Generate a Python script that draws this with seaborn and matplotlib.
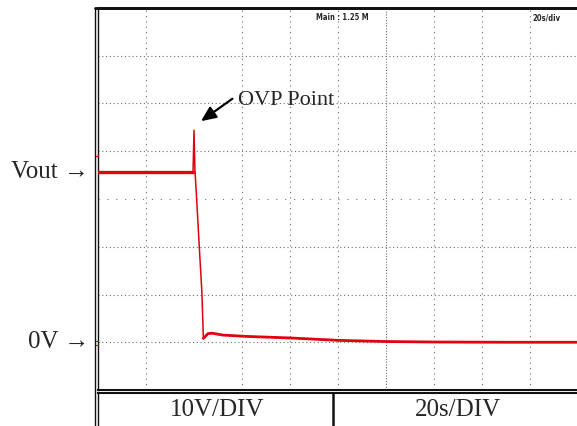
import matplotlib
matplotlib.use("Agg")
import matplotlib.pyplot as plt
from matplotlib.lines import Line2D
import seaborn as sns
import pandas as pd

# scope trace, time in s (20 s/div), voltage in V (10 V/div)
time_pre = [0, 39.6]
volt_pre = [35.6, 35.6]

time_fall = [39.6, 40.0, 40.4, 41.1, 42.2, 43.3, 43.9]
volt_fall = [35.6, 44.4, 36.0, 30.0, 20.0, 10.3, 0.8]

time_post = [43.9, 45.8, 47.5, 52, 63, 80, 100, 120, 140, 170, 200]
volt_post = [0.8, 1.8, 1.9, 1.5, 1.2, 0.9, 0.4, 0.15, 0.05, 0.0, 0.0]

grid_v = [0, 10, 20, 40, 50, 60]
grid_v_sparse = [30]
grid_t = [20, 60, 80, 100, 140, 160, 180]
grid_t_dense = [120]

scale_labels = ["10V/DIV", "20s/DIV"]

W, H = 577, 426


def fx(px):
    return px / W


def fy(py):
    return 1 - py / H


sns.set_style("white")
plt.rcParams['font.family'] = ['Liberation Serif', 'DejaVu Serif']

fig = plt.figure(figsize=(W / 100, H / 100), dpi=100)
ax = fig.add_axes([fx(98), fy(390), 480 / W, (390 - 8) / H])

red = "#e3000f"
df_pre = pd.DataFrame({"t": time_pre, "v": volt_pre})
df_fall = pd.DataFrame({"t": time_fall, "v": volt_fall})
df_post = pd.DataFrame({"t": time_post, "v": volt_post})
sns.lineplot(data=df_pre, x="t", y="v", ax=ax, color=red, lw=2.4, zorder=5)
sns.lineplot(data=df_fall, x="t", y="v", ax=ax, color=red, lw=1.1, zorder=5)
sns.lineplot(data=df_post, x="t", y="v", ax=ax, color=red, lw=2.0, zorder=5)

# graticule
dot = dict(color="#6e6e6e", lw=0.8, zorder=1)
for v in grid_v:
    ax.axhline(v, linestyle=(0, (1, 2.4)), **dot)
for v in grid_v_sparse:
    ax.axhline(v, linestyle=(0, (1, 7)), **dot)
for t in grid_t:
    ax.axvline(t, linestyle=(0, (1, 3.8)), **dot)
for t in grid_t_dense:
    ax.axvline(t, linestyle=(0, (1, 1.5)), **dot)

ax.set_xlim(0, 200)
ax.set_ylim(-10, 70)
ax.set_xticks([])
ax.set_yticks([])
ax.set_xlabel("")
ax.set_ylabel("")
for side in ["left", "top", "bottom", "right"]:
    ax.spines[side].set_color("#111111")
ax.spines["left"].set_linewidth(1.0)
ax.spines["top"].set_linewidth(2.0)
ax.spines["bottom"].set_linewidth(1.5)
ax.spines["right"].set_visible(False)

# OVP marker: arrow and label drawn separately
ax.annotate("", xy=(42.9, 46.3), xytext=(56.0, 51.0),
            arrowprops=dict(arrowstyle="-|>,head_length=0.9,head_width=0.4",
                            color="black", lw=1.6, shrinkA=0, shrinkB=0))
ax.text(58.3, 50.7, "OVP Point", ha="left", va="center", fontsize=16)

# scope readouts
ax.text(0.455, 0.975, "Main : 1.25 M", transform=ax.transAxes, ha="left", va="center",
        fontsize=5.5, fontweight="bold", family="DejaVu Sans", fontstretch="condensed")
ax.text(0.905, 0.975, "20s/div", transform=ax.transAxes, ha="left", va="center",
        fontsize=5.5, fontweight="bold", family="DejaVu Sans", fontstretch="condensed")

# channel markers on left edge
fig.add_artist(Line2D([fx(95), fx(98)], [fy(156), fy(156)], color=red, lw=1))
fig.add_artist(Line2D([fx(95), fx(98)], [fy(341), fy(341)], color=red, lw=0.8))
fig.add_artist(Line2D([fx(95), fx(98)], [fy(345), fy(345)], color=red, lw=0.8))

# outer frame line
fig.add_artist(Line2D([fx(95), fx(95)], [fy(8), 0], color="#111111", lw=1.0))
fig.add_artist(Line2D([fx(95), 1], [fy(8), fy(8)], color="#111111", lw=2.0))

# scale table under the screen
axt = fig.add_axes([fx(98), -0.02, 480 / W, (426 - 393) / H + 0.02])
axt.set_xlim(0, 1)
axt.set_ylim(0, 1)
axt.set_xticks([])
axt.set_yticks([])
for side in ["right", "bottom"]:
    axt.spines[side].set_visible(False)
axt.spines["top"].set_linewidth(1.5)
axt.spines["left"].set_linewidth(1.0)
for side in ["top", "left"]:
    axt.spines[side].set_color("#111111")
axt.axvline((333 - 98) / 480, color="#111111", lw=1.8)

fig.text(fx(217), fy(410), scale_labels[0], ha="center", va="center", fontsize=18)
fig.text(fx(458), fy(410), scale_labels[1], ha="center", va="center", fontsize=18)

fig.text(fx(89), fy(172), "Vout \u2192", ha="right", va="center", fontsize=18)
fig.text(fx(89), fy(342), "0V \u2192", ha="right", va="center", fontsize=18)

fig.savefig("out.png", dpi=100)
